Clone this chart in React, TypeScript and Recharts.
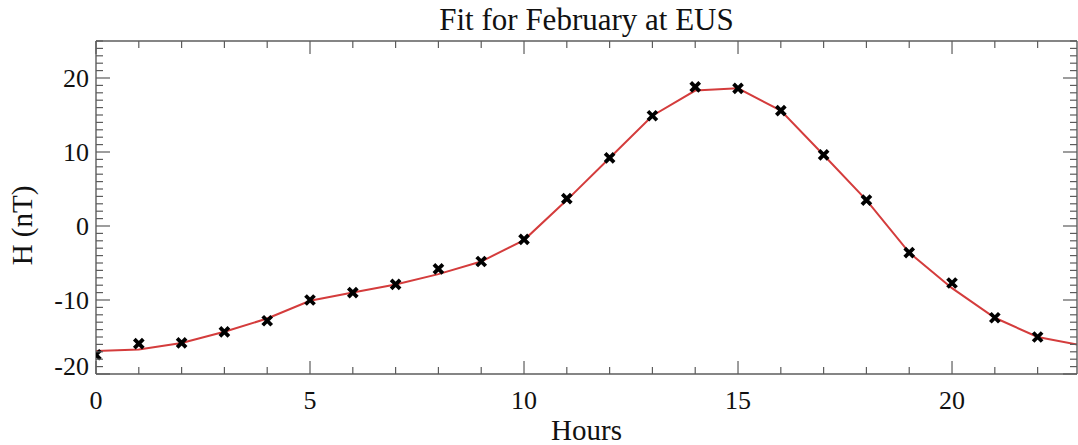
import { ComposedChart, Line, Scatter, XAxis, YAxis } from "recharts";

// hourly observations (nT) and the harmonic fit evaluated on the hour
const hours = [0, 1, 2, 3, 4, 5, 6, 7, 8, 9, 10, 11, 12, 13, 14, 15, 16, 17, 18, 19, 20, 21, 22];
const observed = [
  -17.4, -15.9, -15.8, -14.3, -12.8, -10.0, -9.0, -7.9, -5.8, -4.8, -1.8, 3.7,
  9.2, 14.9, 18.8, 18.6, 15.6, 9.6, 3.5, -3.6, -7.7, -12.4, -15.0,
];
const fitHours = [0, 1, 2, 3, 4, 5, 6, 7, 8, 9, 10, 11, 12, 13, 14, 15, 16, 17, 18, 19, 20, 21, 22, 23];
const fitted = [
  -16.9, -16.7, -15.8, -14.3, -12.5, -10.1, -9.0, -7.9, -6.5, -4.8, -1.9, 3.5,
  9.2, 14.9, 18.3, 18.6, 15.6, 9.6, 3.5, -3.6, -8.4, -12.4, -15.0, -16.1,
];

const xTicks = [0, 1, 2, 3, 4, 5, 6, 7, 8, 9, 10, 11, 12, 13, 14, 15, 16, 17, 18, 19, 20, 21, 22];
const yTicks = [
  -20, -19, -18, -17, -16, -15, -14, -13, -12, -11, -10, -9, -8, -7, -6, -5, -4, -3, -2, -1,
  0, 1, 2, 3, 4, 5, 6, 7, 8, 9, 10, 11, 12, 13, 14, 15, 16, 17, 18, 19, 20, 21, 22, 23, 24, 25,
];
const xDomain: [number, number] = [0, 22.92];
const yDomain: [number, number] = [-20, 25];

const obsData = hours.map((h, i) => ({ hour: h, H: observed[i] }));
const fitData = fitHours.map((h, i) => ({ hour: h, fit: fitted[i] }));

const AXIS = "#5c5c5c";
const INK = "#111";
const FONT = '"Liberation Serif", "DejaVu Serif", serif';

const BottomTick = ({ x, y, payload }: any) => {
  const v = payload.value;
  const major = v % 5 === 0;
  return (
    <g>
      <line x1={x} x2={x} y1={y} y2={y - (major ? 13 : 7)} stroke={AXIS} strokeWidth={1.2} />
      {major && (
        <text x={x} y={y + 35} textAnchor="middle" fontSize={26} fontFamily={FONT} fill={INK}>
          {v}
        </text>
      )}
    </g>
  );
};

const TopTick = ({ x, y, payload }: any) => {
  const major = payload.value % 5 === 0;
  return <line x1={x} x2={x} y1={y} y2={y + (major ? 13 : 7)} stroke={AXIS} strokeWidth={1.2} />;
};

const LeftTick = ({ x, y, payload }: any) => {
  const v = payload.value;
  const major = v % 10 === 0;
  // bottom label sits a little above the corner
  const ly = v === -20 ? y - 8 : y;
  return (
    <g>
      <line x1={x} x2={x + (major ? 14 : 7)} y1={y} y2={y} stroke={AXIS} strokeWidth={1.2} />
      {major && (
        <text x={x - 7} y={ly + 9} textAnchor="end" fontSize={26} fontFamily={FONT} fill={INK}>
          {v}
        </text>
      )}
    </g>
  );
};

const RightTick = ({ x, y, payload }: any) => {
  const major = payload.value % 10 === 0;
  return <line x1={x} x2={x - (major ? 14 : 7)} y1={y} y2={y} stroke={AXIS} strokeWidth={1.2} />;
};

const CrossMark = ({ cx, cy }: any) => (
  <path
    d={`M${cx - 4.5},${cy - 4.5}L${cx + 4.5},${cy + 4.5}M${cx - 4.5},${cy + 4.5}L${cx + 4.5},${cy - 4.5}`}
    stroke="#000"
    strokeWidth={3.8}
    fill="none"
  />
);

const HoursLabel = ({ viewBox }: any) => (
  <text
    x={viewBox.x + viewBox.width / 2}
    y={viewBox.y + 66}
    textAnchor="middle"
    fontSize={29}
    fontFamily={FONT}
    fill={INK}
  >
    Hours
  </text>
);

const HLabel = ({ viewBox }: any) => {
  const cx = 22;
  const cy = viewBox.y + viewBox.height / 2 + 18;
  return (
    <text
      x={cx}
      y={cy}
      transform={`rotate(-90, ${cx}, ${cy})`}
      textAnchor="middle"
      dominantBaseline="central"
      fontSize={29}
      fontFamily={FONT}
      fill={INK}
    >
      H (nT)
    </text>
  );
};

export default function App() {
  return (
    <div style={{ position: "absolute", left: 0, top: 0, width: 1078, height: 445, background: "#fff" }}>
      <div
        style={{
          position: "absolute",
          left: 96,
          width: 981,
          top: 3,
          textAlign: "center",
          fontFamily: FONT,
          fontSize: 31,
          lineHeight: "34px",
          color: INK,
        }}
      >
        Fit for February at EUS
      </div>
      <ComposedChart width={1078} height={445} margin={{ top: 11, right: 0, bottom: 0, left: 0 }}>
        <XAxis
          xAxisId="bottom"
          dataKey="hour"
          type="number"
          domain={xDomain}
          allowDataOverflow
          ticks={xTicks}
          interval={0}
          height={71}
          tickSize={0}
          tickMargin={0}
          tickLine={false}
          axisLine={{ stroke: AXIS, strokeWidth: 1.4 }}
          tick={<BottomTick />}
          label={HoursLabel}
        />
        <XAxis
          xAxisId="top"
          orientation="top"
          dataKey="hour"
          type="number"
          domain={xDomain}
          allowDataOverflow
          ticks={xTicks}
          interval={0}
          height={30}
          tickSize={0}
          tickMargin={0}
          tickLine={false}
          axisLine={{ stroke: AXIS, strokeWidth: 1.4 }}
          tick={<TopTick />}
        />
        <YAxis
          yAxisId="left"
          type="number"
          domain={yDomain}
          allowDataOverflow
          ticks={yTicks}
          interval={0}
          width={96}
          tickSize={0}
          tickMargin={0}
          tickLine={false}
          axisLine={{ stroke: AXIS, strokeWidth: 1.4 }}
          tick={<LeftTick />}
          label={HLabel}
        />
        <YAxis
          yAxisId="right"
          orientation="right"
          type="number"
          domain={yDomain}
          allowDataOverflow
          ticks={yTicks}
          interval={0}
          width={1}
          tickSize={0}
          tickMargin={0}
          tickLine={false}
          axisLine={{ stroke: AXIS, strokeWidth: 1.4 }}
          tick={<RightTick />}
        />
        <Scatter
          xAxisId="bottom"
          yAxisId="left"
          data={obsData}
          dataKey="H"
          shape={<CrossMark />}
          isAnimationActive={false}
        />
        <Line
          xAxisId="bottom"
          yAxisId="left"
          data={fitData}
          dataKey="fit"
          type="linear"
          stroke="#d43c3c"
          strokeWidth={2}
          dot={false}
          activeDot={false}
          isAnimationActive={false}
        />
      </ComposedChart>
    </div>
  );
}
